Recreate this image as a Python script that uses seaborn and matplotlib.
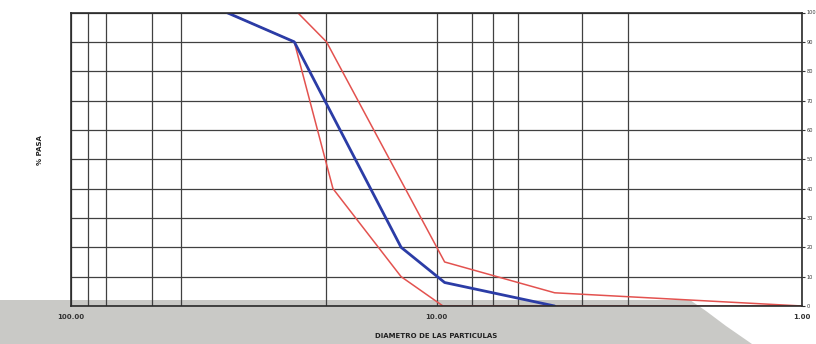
import numpy as np
import pandas as pd
import matplotlib
matplotlib.use("Agg")
import matplotlib.pyplot as plt
from matplotlib.patches import Polygon
from matplotlib.ticker import FixedLocator, NullFormatter
import seaborn as sns

# granulometric curve (diameter in mm, % passing)
muestra_dia = [37.5, 24.5, 12.5, 9.5, 4.75]
muestra_pasa = [100, 90, 20, 8, 0]

lim_inf_dia = [37.5, 24.5, 19.2, 12.5, 9.6, 1.0]
lim_inf_pasa = [100, 90, 40, 10, 0, 0]

lim_sup_dia = [24.0, 20.0, 9.5, 4.75, 1.0]
lim_sup_pasa = [100, 90, 15, 4.5, 0]

x_ticks = [100, 10, 1]
x_tick_labels = ["100.00", "10.00", "1.00"]
x_minor_grid = [90, 80, 60, 50, 20, 8, 7, 6, 4, 3]
y_ticks = list(range(0, 101, 10))

df = pd.concat([
    pd.DataFrame({"dia": lim_inf_dia, "pasa": lim_inf_pasa, "serie": "inf"}),
    pd.DataFrame({"dia": lim_sup_dia, "pasa": lim_sup_pasa, "serie": "sup"}),
    pd.DataFrame({"dia": muestra_dia, "pasa": muestra_pasa, "serie": "muestra"}),
])

sns.set_style("white")
plt.rcParams["font.family"] = ["DejaVu Sans"]

fig = plt.figure(figsize=(8.16, 3.44), dpi=100)
ax = fig.add_axes([71 / 816, 38 / 344, 731 / 816, 293.5 / 344])
ax.patch.set_alpha(0)

# scanner shadow along the bottom of the sheet
shadow_px = [(0, 300), (690, 300), (706, 311), (726, 326), (752, 344), (0, 344)]
fig.patches.append(Polygon([(x / 816, 1 - y / 344) for x, y in shadow_px],
                           closed=True, transform=fig.transFigure,
                           facecolor="#c9c9c6", edgecolor="none", zorder=-5))

palette = {"inf": "#e3524f", "sup": "#e3524f", "muestra": "#2b3ca6"}
sizes = {"inf": 1.1, "sup": 1.1, "muestra": 2.0}
sns.lineplot(data=df, x="dia", y="pasa", hue="serie", size="serie",
             palette=palette, sizes=sizes, sort=False, estimator=None,
             legend=False, ax=ax)

ax.set_xscale("log")
ax.set_xlim(100, 1)
ax.set_ylim(0, 100)

ax.xaxis.set_major_locator(FixedLocator(x_ticks))
ax.set_xticklabels(x_tick_labels)
ax.xaxis.set_minor_locator(FixedLocator(x_minor_grid))
ax.xaxis.set_minor_formatter(NullFormatter())
ax.set_yticks(y_ticks)

ax.grid(which="major", axis="both", color="#404040", lw=0.9)
ax.grid(which="minor", axis="x", color="#404040", lw=0.9)
for s in ax.spines.values():
    s.set_color("#2a2a2a")
    s.set_linewidth(1.2)

# y labels sit in the narrow strip at the right edge, so keep them tiny
ax.yaxis.tick_right()
ax.tick_params(axis="y", which="both", length=2, width=0.8, labelsize=3.6, pad=1.5, colors="#333333")
ax.tick_params(axis="x", which="both", length=0, labelsize=5, pad=6, colors="#333333")
for lab in ax.get_xticklabels():
    lab.set_fontweight("bold")

ax.set_xlabel("DIAMETRO DE LAS PARTICULAS", fontsize=5, fontweight="bold", labelpad=9, color="#222222")
ax.set_ylabel("")
fig.text(40 / 816, 1 - 150 / 344, "% PASA", rotation=90, fontsize=5, fontweight="bold",
         ha="center", va="center", color="#222222")

fig.savefig("out.png", dpi=100)
